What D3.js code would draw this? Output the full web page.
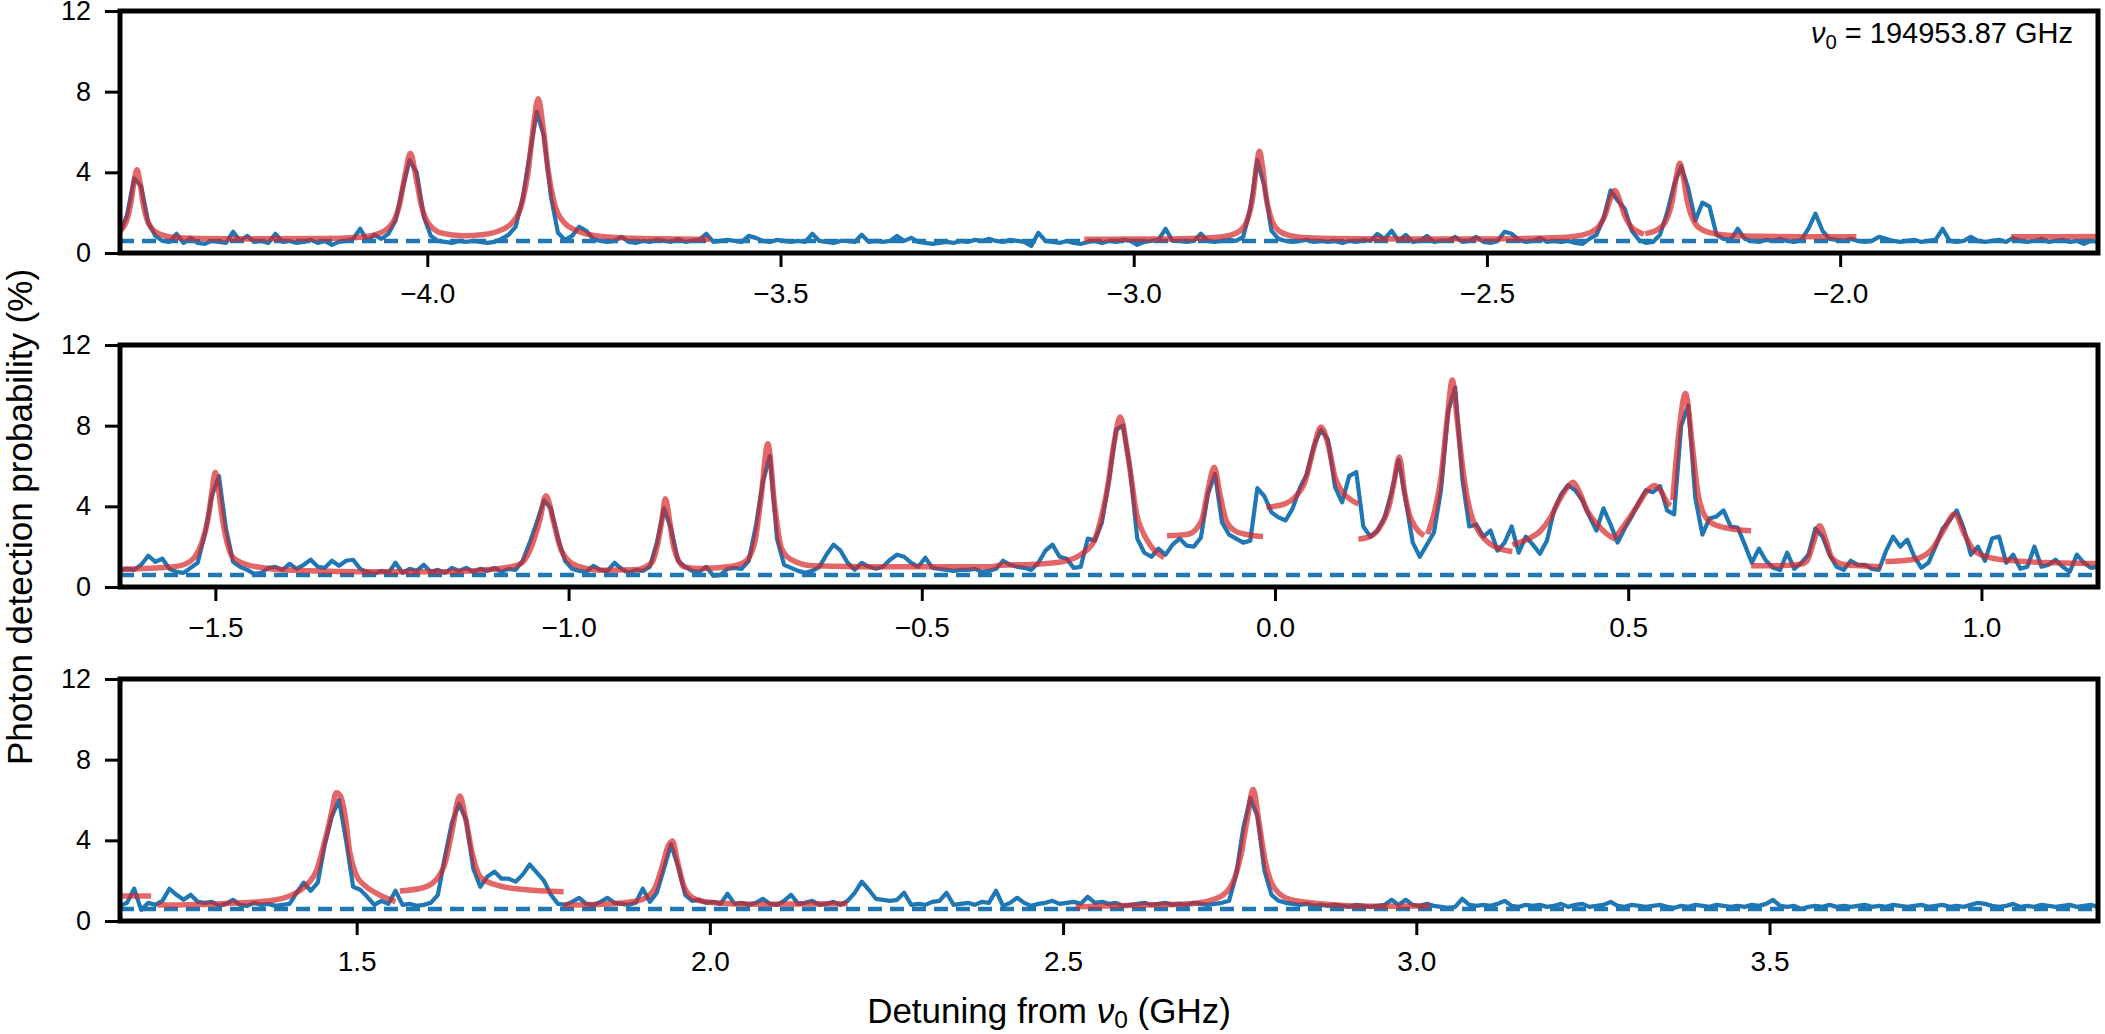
<!DOCTYPE html>
<html>
<head>
<meta charset="utf-8">
<script src="https://cdn.jsdelivr.net/npm/d3@7"></script>
<style>
  body { margin: 0; background: #fff; }
  svg text { font-family: "Liberation Sans", Arial, Helvetica, sans-serif; fill: #000; }
</style>
</head>
<body>
<div id="chart"></div>
<script>
// frequency grid of the scan, GHz
var detuningStep = 0.01;
var panelStarts = [-4.435, -1.635, 1.165];
var panelDomains = [[-4.435, -1.635], [-1.635, 1.165], [1.165, 3.965]];

var xTicks = [
	[-4.0, -3.5, -3.0, -2.5, -2.0],
	[-1.5, -1.0, -0.5, 0.0, 0.5, 1.0],
	[1.5, 2.0, 2.5, 3.0, 3.5]
];
var yTicks = [0, 4, 8, 12];

// background level (dashed line), %
var backgroundLevel = 0.6;

// measured photon detection probability (%), one value per grid step
var counts1 = [
	1.0, 1.9, 3.7, 3.3, 1.5, 0.85, 0.6, 0.55, 0.95, 0.5,
	0.75, 0.5, 0.45, 0.6, 0.55, 0.5, 1.05, 0.6, 0.85, 0.55,
	0.6, 0.5, 0.95, 0.55, 0.6, 0.5, 0.55, 0.65, 0.5, 0.6,
	0.4, 0.55, 0.6, 0.7, 1.2, 0.6, 0.9, 0.7, 0.95, 1.6,
	3.2, 4.6, 4.0, 1.8, 0.85, 0.6, 0.55, 0.5, 0.6, 0.55,
	0.6, 0.55, 0.5, 0.55, 0.7, 0.9, 1.3, 2.7, 4.9, 7.0,
	5.8, 2.8, 1.0, 0.65, 0.85, 1.3, 1.1, 0.7, 0.6, 0.55,
	0.6, 0.8, 0.55, 0.5, 0.6, 0.55, 0.65, 0.6, 0.55, 0.7,
	0.55, 0.6, 0.65, 0.95, 0.55, 0.6, 0.65, 0.6, 0.55, 0.85,
	0.75, 0.6, 0.55, 0.65, 0.6, 0.55, 0.6, 0.55, 0.95, 0.6,
	0.55, 0.5, 0.6, 0.6, 0.55, 0.9, 0.55, 0.6, 0.55, 0.6,
	0.85, 0.6, 0.75, 0.55, 0.5, 0.45, 0.5, 0.55, 0.5, 0.6,
	0.55, 0.65, 0.6, 0.7, 0.6, 0.55, 0.65, 0.6, 0.55, 0.35,
	1.0, 0.6, 0.55, 0.5, 0.6, 0.5, 0.45, 0.55, 0.6, 0.5,
	0.6, 0.55, 0.65, 0.6, 0.4, 0.55, 0.6, 0.65, 1.2, 0.6,
	0.6, 0.55, 0.6, 0.95, 0.6, 0.55, 0.6, 0.65, 0.6, 0.8,
	2.2, 4.6, 3.3, 1.1, 0.7, 0.6, 0.55, 0.6, 0.65, 0.55,
	0.6, 0.55, 0.6, 0.5, 0.6, 0.55, 0.65, 0.6, 0.95, 0.7,
	1.1, 0.6, 0.9, 0.55, 0.6, 0.85, 0.55, 0.6, 0.6, 0.8,
	0.55, 0.6, 0.8, 0.55, 0.5, 0.6, 1.05, 0.95, 0.65, 0.55,
	0.6, 0.75, 0.55, 0.6, 0.55, 0.6, 0.5, 0.45, 0.7, 0.9,
	1.7, 3.1, 2.6, 2.2, 1.1, 0.65, 0.5, 0.55, 0.9, 2.0,
	3.4, 4.3, 3.2, 1.6, 2.5, 2.3, 0.9, 0.7, 0.65, 1.2,
	0.7, 0.6, 0.55, 0.65, 0.6, 0.7, 0.6, 0.55, 0.65, 1.2,
	1.95, 1.1, 0.7, 0.65, 0.6, 0.7, 0.6, 0.55, 0.6, 0.8,
	0.7, 0.6, 0.55, 0.6, 0.65, 0.55, 0.6, 0.65, 1.2, 0.6,
	0.55, 0.6, 0.8, 0.6, 0.55, 0.6, 0.65, 0.55, 0.75, 0.6,
	0.55, 0.6, 0.7, 0.55, 0.6, 0.65, 0.55, 0.6, 0.45, 0.6, 0.55
];

var counts2 = [
	0.85, 0.9, 0.85, 1.1, 1.55, 1.25, 1.4, 0.9, 0.75, 0.7,
	0.95, 1.2, 2.6, 4.5, 5.5, 2.9, 1.25, 1.0, 0.85, 0.65,
	0.7, 0.95, 1.0, 0.85, 1.15, 0.9, 1.1, 1.35, 1.0, 0.95,
	1.3, 1.05, 1.3, 1.35, 0.9, 0.75, 0.65, 0.8, 0.7, 1.2,
	0.7, 0.9, 0.8, 1.1, 0.75, 0.85, 0.7, 0.95, 0.8, 0.95,
	0.75, 0.9, 0.8, 0.95, 0.75, 0.9, 0.85, 1.3, 2.2, 3.2,
	4.3, 3.9, 2.4, 1.3, 0.9, 0.8, 0.75, 1.05, 0.85, 0.8,
	1.2, 0.9, 0.7, 0.85, 0.8, 1.0, 2.2, 3.9, 2.9, 1.3,
	1.0, 0.8, 0.75, 1.0, 0.55, 0.6, 0.9, 0.95, 0.9, 1.3,
	3.0, 5.2, 6.5, 2.4, 1.1, 0.95, 0.8, 0.7, 0.8, 1.0,
	1.6, 2.1, 1.8, 1.2, 0.85, 1.2, 1.0, 0.9, 1.0, 1.35,
	1.6, 1.5, 1.2, 1.0, 1.45, 0.95, 0.9, 0.85, 0.8, 0.85,
	0.85, 0.9, 0.75, 0.8, 0.9, 1.3, 1.1, 1.0, 0.95, 0.85,
	1.2, 1.8, 2.1, 1.5, 1.4, 0.95, 1.0, 2.4, 2.3, 3.2,
	5.3, 7.8, 8.0, 5.8, 2.4, 1.7, 1.5, 1.9, 1.6, 2.1,
	2.4, 2.05, 2.0, 2.45, 4.6, 5.6, 3.2, 2.6, 2.4, 2.2,
	2.3, 4.9, 4.5, 3.7, 3.45, 3.3, 3.9, 4.9, 5.6, 7.0,
	7.8, 7.3, 4.95, 4.2, 5.5, 5.7, 3.0, 2.5, 2.8, 3.45,
	4.7, 6.3, 4.3, 2.2, 1.5, 2.1, 2.7, 4.8, 8.7, 9.9,
	5.4, 3.0, 3.1, 2.5, 2.8, 1.8, 2.2, 3.0, 1.7, 2.5,
	2.1, 1.65, 2.3, 3.8, 4.6, 5.05, 4.8, 4.3, 3.5, 2.8,
	3.9, 3.1, 2.2, 2.9, 3.5, 4.2, 4.8, 4.7, 5.0, 3.8,
	3.6, 8.0, 9.0, 4.4, 2.6, 3.4, 3.5, 3.8, 3.0, 2.95,
	2.1, 1.2, 1.9, 1.3, 0.95, 0.85, 1.7, 0.9, 1.2, 1.6,
	2.9, 2.5, 1.6, 1.0, 0.85, 1.3, 1.1, 1.1, 0.9, 0.85,
	1.8, 2.5, 2.0, 2.35, 1.5, 0.95, 1.2, 2.0, 2.9, 3.3,
	3.8, 2.9, 1.6, 2.0, 1.3, 2.4, 2.5, 1.2, 1.6, 0.9,
	1.0, 2.0, 1.0, 1.1, 1.35, 1.0, 0.75, 1.6, 1.2, 0.95, 1.0
];

var counts3 = [
	0.75, 0.9, 1.6, 0.55, 0.9, 0.8, 1.0, 1.6, 1.3, 1.05,
	1.3, 0.95, 0.9, 0.95, 0.75, 0.85, 1.05, 0.8, 0.75, 0.9,
	0.8, 0.85, 0.75, 0.8, 0.85, 1.4, 1.9, 1.5, 1.9, 3.8,
	5.2, 6.0, 4.0, 1.7, 1.55, 1.2, 0.8, 1.0, 0.85, 1.5,
	0.8, 0.85, 0.75, 0.8, 0.9, 1.3, 3.2, 4.9, 5.8, 5.0,
	2.6, 1.7, 2.2, 2.45, 2.1, 2.1, 1.95, 2.3, 2.8, 2.4,
	2.0, 1.3, 0.85, 0.8, 0.95, 1.15, 0.85, 0.8, 0.95, 1.15,
	0.9, 0.85, 0.8, 0.9, 1.6, 0.95, 1.4, 2.6, 3.8, 2.7,
	1.3, 1.0, 1.05, 0.9, 0.95, 0.85, 1.35, 0.85, 0.9, 0.8,
	0.9, 1.1, 0.85, 0.8, 1.0, 1.3, 0.85, 0.9, 1.0, 0.8,
	0.85, 0.95, 0.8, 1.0, 1.4, 1.95, 1.55, 1.1, 1.05, 1.0,
	1.05, 1.4, 0.8, 0.85, 0.8, 0.95, 1.0, 1.4, 0.8, 0.85,
	0.9, 0.8, 0.95, 0.9, 1.5, 0.75, 0.9, 1.15, 0.9, 0.75,
	0.85, 0.9, 1.0, 0.85, 0.9, 0.95, 0.85, 1.2, 0.9, 0.95,
	0.85, 0.9, 0.75, 0.8, 0.85, 0.9, 0.8, 0.85, 0.9, 0.8,
	0.85, 0.8, 0.9, 0.85, 0.8, 0.85, 0.9, 1.0, 2.3, 4.6,
	6.1, 5.2, 2.5, 1.3, 1.0, 0.9, 0.85, 0.8, 0.85, 0.75,
	0.8, 0.75, 0.8, 0.75, 0.7, 0.8, 0.75, 0.7, 0.75, 0.8,
	1.05, 0.8, 1.05, 0.8, 0.75, 0.85, 0.75, 0.7, 0.65, 0.7,
	1.1, 0.8, 0.75, 0.8, 0.75, 0.85, 1.0, 0.75, 0.7, 0.8,
	0.75, 0.8, 0.7, 0.75, 0.85, 0.7, 0.8, 0.85, 0.7, 0.75,
	0.8, 0.95, 0.75, 0.7, 0.8, 0.75, 0.7, 0.75, 0.8, 0.7,
	0.65, 0.75, 0.7, 0.8, 0.75, 0.7, 0.8, 0.75, 0.7, 0.75,
	0.7, 0.8, 0.75, 0.85, 1.05, 0.75, 0.7, 0.75, 0.6, 0.7,
	0.75, 0.7, 0.8, 0.7, 0.75, 0.7, 0.75, 0.8, 0.7, 0.75,
	0.7, 0.8, 0.75, 0.7, 0.75, 0.8, 0.7, 0.75, 0.8, 0.7,
	0.75, 0.7, 0.8, 0.9, 0.85, 0.75, 0.7, 0.75, 0.85, 0.7,
	0.75, 0.7, 0.8, 0.75, 0.7, 0.75, 0.8, 0.7, 0.75, 0.8, 0.7
];

// fitted line shapes, [detuning GHz, probability %], one list per fit window
var fits1 = [
	[[-4.435,1.10],[-4.425,1.68],[-4.42,2.41],[-4.415,3.56],[-4.411,4.13],[-4.407,3.56],[-4.402,2.41],[-4.397,1.68],[-4.39,1.22],[-4.38,0.95],[-4.36,0.78],[-4.32,0.72],[-4.25,0.70],[-4.15,0.72],[-4.10,0.77],[-4.07,0.95],[-4.05,1.45],[-4.04,2.3],[-4.031,3.95],[-4.024,4.95],[-4.017,3.95],[-4.008,2.3],[-3.998,1.45],[-3.978,0.97],[-3.95,0.86],[-3.92,0.92],[-3.90,1.08],[-3.88,1.5],[-3.865,2.6],[-3.857,4.1],[-3.85,6.2],[-3.843,7.65],[-3.836,6.2],[-3.829,4.1],[-3.821,2.6],[-3.806,1.5],[-3.786,1.08],[-3.76,0.85],[-3.72,0.75],[-3.65,0.70],[-3.60,0.68]],
	[[-3.07,0.68],[-3.0,0.69],[-2.95,0.70],[-2.90,0.74],[-2.87,0.83],[-2.85,1.09],[-2.84,1.56],[-2.831,2.88],[-2.826,4.35],[-2.822,5.05],[-2.818,4.35],[-2.813,2.88],[-2.804,1.56],[-2.794,1.09],[-2.774,0.83],[-2.744,0.74],[-2.69,0.71],[-2.60,0.70],[-2.50,0.70],[-2.42,0.74],[-2.38,0.81],[-2.355,1.0],[-2.34,1.4],[-2.3325,1.9],[-2.326,2.6],[-2.319,3.1],[-2.312,2.6],[-2.3055,1.9],[-2.298,1.4],[-2.283,1.0],[-2.278,0.93]],
	[[-2.276,0.96],[-2.26,1.13],[-2.248,1.51],[-2.2374,2.62],[-2.232,3.77],[-2.227,4.45],[-2.222,3.77],[-2.2166,2.62],[-2.206,1.51],[-2.194,1.13],[-2.17,0.92],[-2.12,0.83],[-2.05,0.81],[-1.977,0.80]],
	[[-1.758,0.80],[-1.70,0.81],[-1.635,0.82]]
];

var fits2 = [
	[[-1.633,0.88],[-1.58,0.95],[-1.551,1.05],[-1.532,1.38],[-1.52,2.12],[-1.51,3.45],[-1.505,4.7],[-1.500,5.69],[-1.495,4.7],[-1.491,3.62],[-1.484,2.29],[-1.475,1.46],[-1.449,1.05],[-1.392,0.83],[-1.298,0.76],[-1.171,0.76],[-1.108,0.88],[-1.069,1.13],[-1.054,1.88],[-1.041,3.29],[-1.032,4.53],[-1.021,3.2],[-1.010,1.79],[-0.988,1.05],[-0.950,0.83],[-0.906,0.85],[-0.882,1.21],[-0.874,2.12],[-0.868,3.29],[-0.863,4.37],[-0.857,3.29],[-0.851,1.96],[-0.836,1.0],[-0.812,0.92],[-0.774,1.0],[-0.749,1.29],[-0.736,2.29],[-0.727,4.61],[-0.718,7.1],[-0.708,3.95],[-0.699,1.96],[-0.686,1.38],[-0.654,1.05],[-0.591,1.01],[-0.497,1.0],[-0.402,1.01],[-0.388,1.08],[-0.341,1.13],[-0.303,1.24],[-0.274,1.63],[-0.256,2.29],[-0.247,3.29],[-0.237,4.95],[-0.228,7.1],[-0.219,8.43],[-0.210,6.94],[-0.203,5.28],[-0.196,3.62],[-0.189,2.87],[-0.179,2.2],[-0.170,1.79],[-0.157,1.46]],
	[[-0.153,2.54],[-0.123,2.62],[-0.104,3.29],[-0.095,4.78],[-0.086,5.94],[-0.078,4.61],[-0.069,3.29],[-0.057,2.79],[-0.038,2.59],[-0.017,2.5]],
	[[-0.012,3.95],[0.014,4.12],[0.028,4.45],[0.043,5.28],[0.054,6.77],[0.065,7.93],[0.076,6.94],[0.085,5.44],[0.094,4.78],[0.106,4.36],[0.118,4.12]],
	[[0.118,2.37],[0.137,2.54],[0.151,3.12],[0.161,3.95],[0.168,5.11],[0.176,6.45],[0.183,4.78],[0.190,3.62],[0.199,2.95],[0.211,2.54]],
	[[0.216,2.62],[0.225,3.62],[0.235,5.44],[0.244,8.43],[0.251,10.26],[0.258,8.27],[0.265,6.1],[0.272,4.45],[0.279,3.45],[0.291,2.62],[0.305,2.12],[0.320,1.88],[0.336,1.76]],
	[[0.336,2.09],[0.357,2.37],[0.376,2.79],[0.390,3.45],[0.402,4.28],[0.414,4.95],[0.422,5.2],[0.430,4.78],[0.442,3.78],[0.456,3.12],[0.470,2.62],[0.482,2.37]],
	[[0.482,2.46],[0.499,3.29],[0.513,4.03],[0.527,4.78],[0.537,5.03],[0.546,4.78],[0.555,4.2],[0.560,4.03]],
	[[0.563,4.3],[0.572,7.77],[0.581,9.59],[0.591,6.94],[0.598,4.78],[0.605,3.78],[0.617,3.2],[0.636,2.95],[0.655,2.84],[0.674,2.79]],
	[[0.674,1.05],[0.706,1.05],[0.744,1.13],[0.753,1.29],[0.763,2.29],[0.771,3.04],[0.780,2.29],[0.788,1.46],[0.804,1.13],[0.829,1.05],[0.858,1.01]],
	[[0.864,1.26],[0.905,1.38],[0.930,1.88],[0.946,2.79],[0.962,3.62],[0.976,2.62],[0.990,1.79],[1.012,1.46],[1.050,1.29],[1.094,1.21],[1.165,1.16]]
];

var fits3 = [
	[[1.166,1.24],[1.209,1.24]],
	[[1.218,0.79],[1.310,0.86],[1.373,0.99],[1.405,1.24],[1.430,1.82],[1.443,2.48],[1.455,3.97],[1.465,5.45],[1.471,6.36],[1.477,6.2],[1.484,5.12],[1.490,3.47],[1.499,2.31],[1.512,1.74],[1.531,1.32],[1.555,0.96]],
	[[1.561,1.49],[1.594,1.65],[1.613,2.07],[1.626,2.98],[1.635,4.46],[1.646,6.2],[1.654,5.12],[1.664,3.3],[1.676,2.15],[1.702,1.74],[1.733,1.57],[1.793,1.45]],
	[[1.793,0.79],[1.847,0.83],[1.897,0.99],[1.920,1.49],[1.932,2.64],[1.941,3.72],[1.947,3.97],[1.954,2.98],[1.964,1.65],[1.980,1.07],[2.005,0.91],[2.068,0.83],[2.195,0.86]],
	[[2.518,0.71],[2.619,0.79],[2.682,0.86],[2.720,1.16],[2.739,1.82],[2.752,3.31],[2.761,5.12],[2.769,6.53],[2.777,4.96],[2.786,2.98],[2.799,1.65],[2.821,1.07],[2.872,0.83],[2.935,0.73],[3.019,0.74]]
];

(function() {
	var width = 2105, height = 1034;
	var left = 120, plotW = 1978, plotH = 242;
	var tops = [11, 345, 679];

	var counts = [counts1, counts2, counts3];
	var fits = [fits1, fits2, fits3];

	var svg = d3.select("#chart")
				.append("svg")
				.attr("width", width)
				.attr("height", height);

	var yScale = d3.scaleLinear().domain([0, 12]).range([plotH, 0]);

	panelDomains.forEach(function(dom, p) {
		var g = svg.append("g")
			.attr("transform", "translate(" + left + "," + tops[p] + ")");

		var xScale = d3.scaleLinear().domain(dom).range([0, plotW]);

		g.append("clipPath")
			.attr("id", "clip" + p)
			.append("rect")
			.attr("width", plotW)
			.attr("height", plotH);

		var plot = g.append("g").attr("clip-path", "url(#clip" + p + ")");

		// measured trace
		var dataLine = d3.line()
			.x(function(d, i) { return xScale(panelStarts[p] + i * detuningStep); })
			.y(function(d) { return yScale(d); });

		plot.append("path")
			.datum(counts[p])
			.attr("d", dataLine)
			.attr("fill", "none")
			.attr("stroke", "#1f77b4")
			.attr("stroke-width", 4.2)
			.attr("stroke-linejoin", "round");

		// background
		plot.append("line")
			.attr("x1", xScale(dom[0]))
			.attr("x2", xScale(dom[1]))
			.attr("y1", yScale(backgroundLevel))
			.attr("y2", yScale(backgroundLevel))
			.attr("stroke", "#1f77b4")
			.attr("stroke-width", 4.5)
			.attr("stroke-dasharray", "14,8");

		// fits
		var fitLine = d3.line()
			.x(function(d) { return xScale(d[0]); })
			.y(function(d) { return yScale(d[1]); })
			.curve(d3.curveMonotoneX);

		plot.selectAll(".fit")
			.data(fits[p])
			.enter()
			.append("path")
			.attr("class", "fit")
			.attr("d", fitLine)
			.attr("fill", "none")
			.attr("stroke", "#d62728")
			.attr("stroke-opacity", 0.7)
			.attr("stroke-width", 5.5);

		// axes
		var xAxis = d3.axisBottom(xScale)
			.tickValues(xTicks[p])
			.tickSize(14)
			.tickPadding(16)
			.tickFormat(d3.format(".1f"));

		var gx = g.append("g")
			.attr("transform", "translate(0," + plotH + ")")
			.call(xAxis);
		gx.select(".domain").remove();
		gx.selectAll("line").attr("stroke", "#000").attr("stroke-width", 3);
		gx.selectAll("text").attr("font-size", 28);

		var yAxis = d3.axisLeft(yScale)
			.tickValues(yTicks)
			.tickSize(15)
			.tickPadding(14)
			.tickFormat(d3.format("d"));

		var gy = g.append("g").call(yAxis);
		gy.select(".domain").remove();
		gy.selectAll("line").attr("stroke", "#000").attr("stroke-width", 3);
		gy.selectAll("text").attr("font-size", 27);

		// frame
		g.append("rect")
			.attr("width", plotW)
			.attr("height", plotH)
			.attr("fill", "none")
			.attr("stroke", "#000")
			.attr("stroke-width", 5);
	});

	// reference frequency note
	var note = svg.append("text")
		.attr("x", 2073)
		.attr("y", 43)
		.attr("text-anchor", "end")
		.attr("font-size", 29);
	note.append("tspan").attr("font-style", "italic").text("ν");
	note.append("tspan").attr("font-size", "0.7em").attr("dy", "0.3em").text("0");
	note.append("tspan").attr("dy", "-0.21em").text(" = 194953.87 GHz");

	// axis titles
	var xt = svg.append("text")
		.attr("x", 1049)
		.attr("y", 1023)
		.attr("text-anchor", "middle")
		.attr("font-size", 35);
	xt.append("tspan").text("Detuning from ");
	xt.append("tspan").attr("font-style", "italic").text("ν");
	xt.append("tspan").attr("font-size", "0.7em").attr("dy", "0.2em").text("0");
	xt.append("tspan").attr("dy", "-0.14em").text(" (GHz)");

	svg.append("text")
		.attr("transform", "translate(32,517) rotate(-90)")
		.attr("text-anchor", "middle")
		.attr("font-size", 35)
		.text("Photon detection probability (%)");
})();
</script>
</body>
</html>
